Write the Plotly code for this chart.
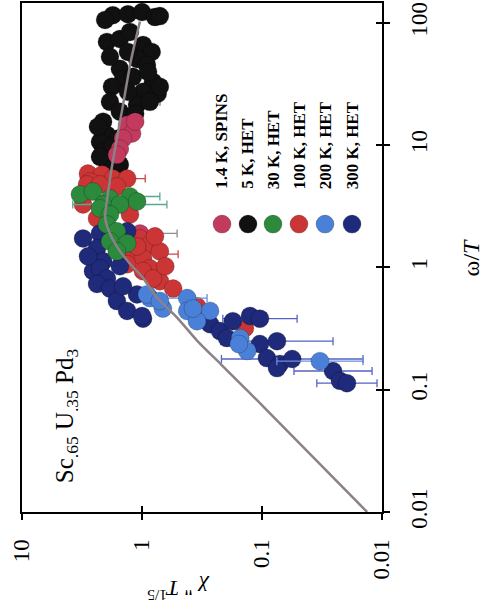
import plotly.graph_objects as go

# Scaling plot: chi'' T^(1/5) versus omega/T, drawn on its side
# (chi'' runs along the horizontal axis, omega/T up the right-hand axis).

# 1.4 K, SPINS
chi_1K = [1.33, 1.21, 1.44, 1.53, 1.62, 1.14, 1.04]
wT_1K = [14.6, 12.4, 11.3, 9.3, 8.3, 15.5, 1.89]
lo_1K = [None, None, None, None, None, None, 0.51]

# 5 K, HET
chi_5K = [1.75, 1.31, 1.00, 0.78, 0.71, 2.03, 1.96, 1.53, 0.98, 0.83, 1.10, 0.91, 1.53, 1.44, 0.81,
          1.78, 0.98, 0.74, 1.85, 1.10, 0.86, 2.11, 1.96, 1.58, 1.26, 2.24, 2.11, 1.96, 1.53,
          1.26, 1.85, 1.31, 1.19, 1.31, 1.53, 1.14, 2.33, 1.75, 2.24, 0.89, 0.71]
wT_5K = [115, 117, 122, 111, 113, 105, 69.5, 73.5, 65.7, 57.6, 50.5, 45.1, 41.9, 34.7, 32.8,
         29.9, 27.2, 26.2, 22.5, 21.3, 22.5, 15.5, 12.1, 11.3, 14.1, 10.6, 8.8, 7.3, 6.9,
         83.8, 52.5, 57.6, 36.0, 27.2, 18.7, 18.0, 14.1, 9.7, 8.0, 39.6, 29.9]
lo_5K = [None] * 20 + [0.708] + [None] * 20

# 30 K, HET
chi_30K = [3.29, 2.56, 1.85, 1.26, 1.10, 2.11, 1.53, 2.24, 1.85, 1.96, 1.62, 1.85, 1.33, 1.62]
wT_30K = [3.94, 4.16, 3.65, 3.79, 3.45, 3.26, 3.26, 3.03, 2.70, 2.24, 1.97, 1.63, 1.57, 1.35]
lo_30K = [None, None, None, 0.71, None, None, 0.62] + [None] * 7

# 100 K, HET
chi_100K = [2.82, 2.15, 1.75, 1.33, 2.71, 2.87, 2.24, 1.62, 3.10, 2.37, 1.26, 1.04, 0.86, 1.19,
            0.98, 0.86, 1.33, 0.71, 0.55, 0.98, 0.81, 0.348, 0.139, 0.71, 0.64, 1.10, 0.78]
wT_100K = [5.83, 5.73, 5.31, 5.31, 5.02, 4.75, 4.75, 4.57, 3.26, 2.51, 2.70, 1.72, 1.54, 1.28,
           1.18, 0.98, 1.06, 0.77, 0.67, 0.93, 0.81, 0.48, 0.318, 1.35, 1.02, 1.48, 1.79]
lo_100K = [None, None, 0.94] + [None] * 10 + [0.50, None, 0.64] + [None] * 11

# 200 K, HET
chi_200K = [0.86, 0.67, 0.42, 0.42, 0.271, 0.348, 0.152, 0.133, 0.0329, 0.91, 0.71, 0.376, 0.156]
wT_200K = [0.56, 0.46, 0.56, 0.44, 0.44, 0.363, 0.264, 0.207, 0.171, 0.60, 0.53, 0.46, 0.236]
lo_200K = [None, None, 0.287] + [None] * 5 + [0.0144] + [None] * 4

# 300 K, HET
chi_300K = [3.10, 2.24, 1.33, 2.37, 2.11, 2.56, 2.24, 1.96, 2.37, 1.85, 1.62, 1.33, 0.98, 1.10,
            1.00, 1.53, 2.82, 1.44, 0.271, 0.224, 0.175, 0.126, 0.104, 0.196, 0.104, 0.075,
            0.091, 0.071, 0.056, 0.075, 0.0256, 0.0224, 0.0196]
wT_300K = [1.72, 1.89, 1.97, 1.43, 1.12, 0.93, 0.98, 0.81, 0.73, 0.67, 0.53, 0.44, 0.38, 0.60,
           0.40, 1.02, 1.23, 0.70, 0.343, 0.301, 0.363, 0.40, 0.38, 0.264, 0.236, 0.249,
           0.181, 0.162, 0.178, 0.150, 0.142, 0.118, 0.113]
lo_300K = [None] * 22 + [0.051, None, None, 0.0256, None, None, 0.0144, None, 0.0121, None, 0.011]

# scaling curve
line_chi = [1.04, 1.24, 1.47, 1.75, 1.96, 2.03, 1.96, 1.78, 1.53, 1.26, 0.98, 0.75, 0.51,
            0.348, 0.224, 0.133, 0.0908, 0.0133]
line_wT = [102, 48.3, 18.9, 7.4, 3.49, 2.63, 2.18, 1.74, 1.36, 1.07, 0.82, 0.565, 0.388,
           0.252, 0.164, 0.0987, 0.0678, 0.01]

legend_labels = ["1.4 K, SPINS", "5 K, HET", "30 K, HET", "100 K, HET", "200 K, HET", "300 K, HET"]
colors = ["#c23a5e", "#111111", "#2b8a3c", "#cc3535", "#4a80d8", "#1f2a7a"]
err_colors = ["#8d8d8d", "#777777", "#5aa894", "#d04545", "#6a8ee0", "#5563c4"]

x_ticks = [10, 1, 0.1, 0.01]
y_ticks = [0.01, 0.1, 1, 10, 100]
tick_text_x = ["10", "1", "0.1", "0.01"]
tick_text_y = ["0.01", "0.1", "1", "10", "100"]

SERIF = "Liberation Serif, Times New Roman, serif"

fig = go.Figure()


def symmetric_log_bars(chi, lo):
    # bar ends symmetric in log space; the right-hand end is the given lower value
    plus, minus = [], []
    for c, l in zip(chi, lo):
        if l is None:
            plus.append(0)
            minus.append(0)
        else:
            plus.append(c * c / l - c)
            minus.append(c - l)
    return plus, minus


series = [
    (chi_5K, wT_5K, lo_5K, 1),
    (chi_1K, wT_1K, lo_1K, 0),
    (chi_100K, wT_100K, lo_100K, 3),
    (chi_300K, wT_300K, lo_300K, 5),
    (chi_200K, wT_200K, lo_200K, 4),
    (chi_30K, wT_30K, lo_30K, 2),
]

for chi, wT, lo, k in series:
    plus, minus = symmetric_log_bars(chi, lo)
    fig.add_trace(go.Scatter(
        x=chi, y=wT, mode="markers", name=legend_labels[k], showlegend=False,
        marker=dict(size=18, color=colors[k], line=dict(width=0.6, color="rgba(0,0,0,0.35)")),
        error_x=dict(type="data", symmetric=False, array=plus, arrayminus=minus,
                     color=err_colors[k], thickness=1.3, width=4),
    ))

fig.add_trace(go.Scatter(
    x=line_chi, y=line_wT, mode="lines", showlegend=False,
    line=dict(color="#8a8288", width=2.5, shape="spline", smoothing=0.6),
))

# companion axes carrying the inward half of each tick mark
fig.add_trace(go.Scatter(x=[1], y=[1], xaxis="x2", yaxis="y2", mode="markers",
                         marker=dict(opacity=0), showlegend=False, hoverinfo="skip"))

axis_common = dict(type="log", showgrid=False, zeroline=False, color="black")

fig.update_layout(
    width=485, height=616,
    margin=dict(l=22, r=103, t=1, b=104),
    paper_bgcolor="white", plot_bgcolor="white",
    showlegend=False,
    xaxis=dict(**axis_common, range=[1, -2], side="bottom", anchor="y",
               showline=True, mirror=True, linewidth=2, linecolor="black",
               ticks="outside", ticklen=6, tickwidth=2, tickcolor="black",
               tickvals=x_ticks, ticktext=tick_text_x, tickangle=-90,
               ticklabelstandoff=10,
               tickfont=dict(family=SERIF, size=23, color="black")),
    xaxis2=dict(**axis_common, range=[1, -2], overlaying="x", side="bottom", anchor="y",
                showline=False, ticks="inside", ticklen=6, tickwidth=2, tickcolor="black",
                tickvals=x_ticks, showticklabels=False),
    yaxis=dict(**axis_common, range=[-2, 2.16], side="right", anchor="x",
               showline=True, mirror=True, linewidth=2, linecolor="black",
               ticks="outside", ticklen=6, tickwidth=2, tickcolor="black",
               tickvals=y_ticks, ticktext=tick_text_y, tickangle=-90,
               ticklabelstandoff=9,
               tickfont=dict(family=SERIF, size=23, color="black")),
    yaxis2=dict(**axis_common, range=[-2, 2.16], overlaying="y", side="right", anchor="x",
                showline=False, ticks="inside", ticklen=6, tickwidth=2, tickcolor="black",
                tickvals=y_ticks, showticklabels=False),
)

# legend: coloured dots with rotated bold labels above them
legend_x = [0.5556, 0.6278, 0.6972, 0.7694, 0.8417, 0.9167]
for lx, lab, col in zip(legend_x, legend_labels, colors):
    fig.add_shape(type="circle", xref="paper", yref="paper",
                  xsizemode="pixel", ysizemode="pixel",
                  xanchor=lx, yanchor=0.5656, x0=-9, x1=9, y0=-9, y1=9,
                  fillcolor=col, line=dict(width=0.6, color="rgba(0,0,0,0.35)"))
    fig.add_annotation(xref="paper", yref="paper", x=lx, y=0.630,
                       xanchor="center", yanchor="bottom", showarrow=False,
                       text="<b>" + lab + "</b>", textangle=-90,
                       font=dict(family=SERIF, size=17, color="black"))

fig.add_annotation(xref="paper", yref="paper", x=0.122, y=0.19,
                   xanchor="center", yanchor="middle", showarrow=False,
                   text="Sc<sub>.65</sub> U<sub>.35</sub> Pd<sub>3</sub>", textangle=-90,
                   font=dict(family=SERIF, size=25, color="black"))

fig.add_annotation(xref="paper", yref="paper", x=1.247, y=0.5,
                   xanchor="center", yanchor="middle", showarrow=False,
                   text="ω/<i>T</i>", textangle=-90,
                   font=dict(family=SERIF, size=24, color="black"))

fig.add_annotation(xref="paper", yref="paper", x=0.433, y=-0.153,
                   xanchor="center", yanchor="middle", showarrow=False,
                   text="<i>χ</i> '' <i>T</i><sup>1/5</sup>", textangle=180,
                   font=dict(family=SERIF, size=22, color="black"))

fig.write_html("out.html")
